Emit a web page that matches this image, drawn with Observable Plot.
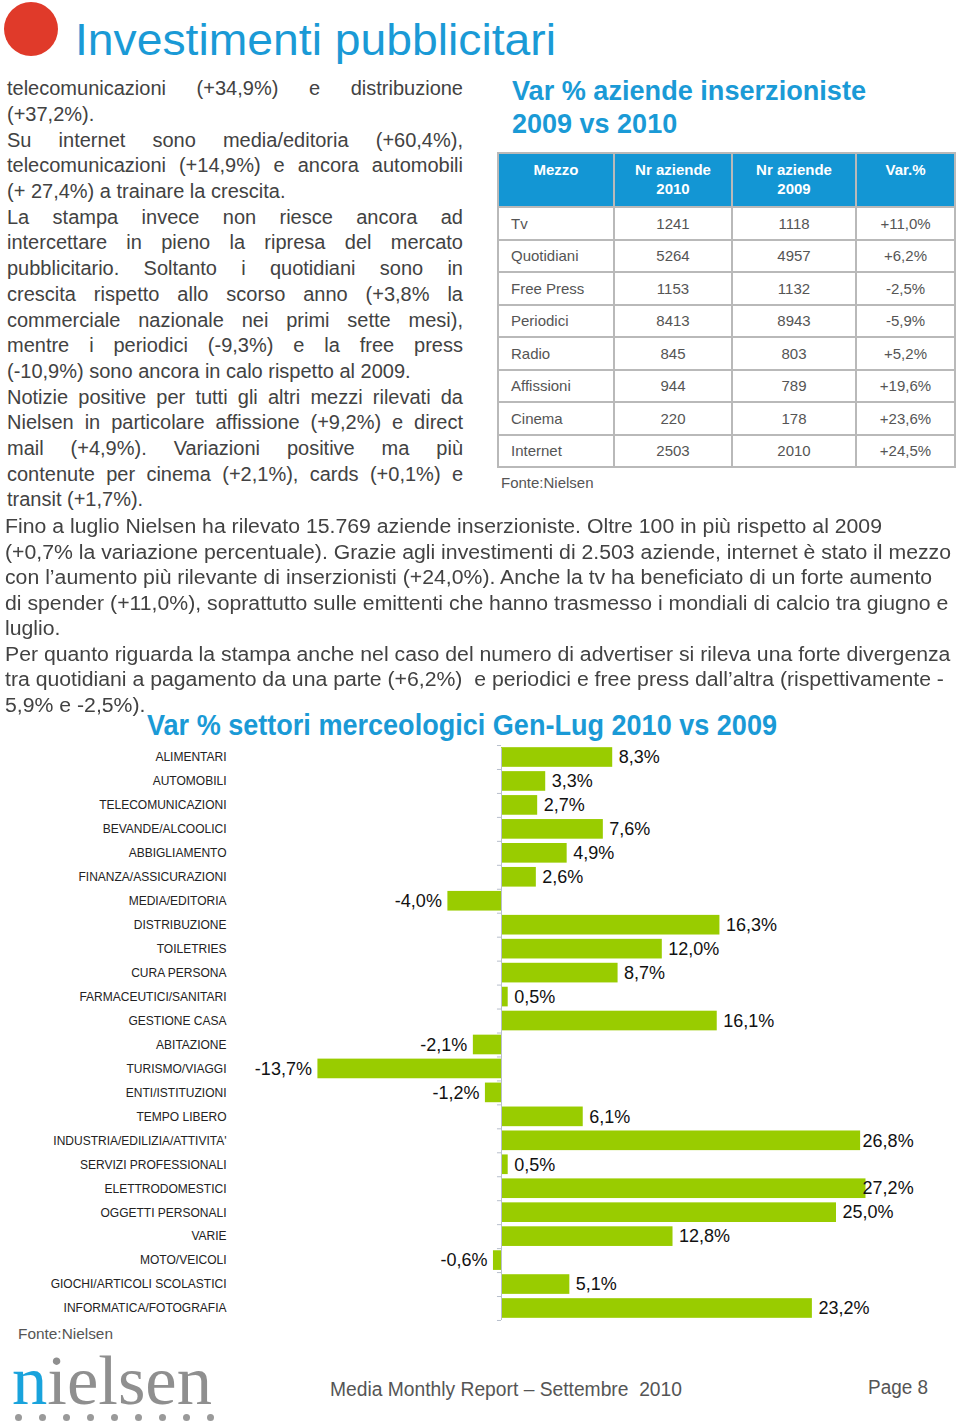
<!DOCTYPE html>
<html><head><meta charset="utf-8">
<script src="https://cdn.jsdelivr.net/npm/d3@7"></script>
<script src="https://cdn.jsdelivr.net/npm/@observablehq/plot@0.6"></script>
<style>
html,body{margin:0;padding:0;background:#fff;}
body{width:960px;height:1428px;position:relative;overflow:hidden;font-family:"Liberation Sans",Arial,Helvetica,sans-serif;}
.abs{position:absolute;white-space:nowrap;}
.txt{color:#424242;font-size:20px;line-height:25.7px;}
.blue{color:#1a9ad6;}
table.t{border-collapse:collapse;font-size:15px;color:#555;}
table.t td, table.t th{border:2px solid #b9b9b9;padding:0;}
table.t th{background:#1396d4;color:#fff;font-weight:bold;vertical-align:top;padding-top:6px;line-height:19px;height:46px;}
table.t td{height:30.5px;text-align:center;}
table.t td.first{text-align:left;padding-left:12px;}
#chart{position:absolute;left:0;top:740px;}
.dots{position:absolute;left:15px;top:1414px;}
.dots span{position:absolute;top:0;width:7px;height:7px;border-radius:50%;background:#9a9a9a;}
</style></head>
<body>
<div class="abs" style="left:4px;top:2px;width:54px;height:54px;border-radius:50%;background:#e03a2a;"></div>
<div class="abs blue fit" data-w="481" style="left:75px;top:14px;font-size:45px;line-height:52px;">Investimenti pubblicitari</div>

<div id="leftcol"></div>

<div class="abs blue" style="left:512px;top:75px;font-size:27px;font-weight:bold;line-height:33px;"><span class="fit" data-w="354">Var % aziende inserzioniste</span><br><span>2009 vs 2010</span></div>
<div id="tablewrap" class="abs" style="left:497px;top:152px;"></div>
<div class="abs" style="left:501px;top:474px;font-size:15px;color:#555;">Fonte:Nielsen</div>

<div id="fullpara" class="abs txt" style="left:5px;top:514px;"></div>

<div class="abs blue fit" data-w="630" style="left:147px;top:708px;font-size:29px;font-weight:bold;line-height:34px;font-family:'Liberation Sans Narrow','Liberation Sans',Arial,sans-serif;">Var % settori merceologici Gen-Lug 2010 vs 2009</div>

<div id="chart"></div>

<div class="abs fit" data-w="95" style="left:18px;top:1327px;font-size:14px;line-height:15px;color:#555;font-family:'Liberation Sans Narrow','Liberation Sans',Arial,sans-serif;">Fonte:Nielsen</div>
<div class="abs fit" data-w="200" style="left:12px;top:1352px;font-size:70px;line-height:58px;font-family:'Liberation Serif','Times New Roman',serif;color:#8f8f8f;"><span style="color:#19a3dc">n</span>ielsen</div>
<div class="dots" id="dots"></div>
<div class="abs fit" data-w="352" style="left:330px;top:1378px;font-size:20px;color:#555;font-family:'Liberation Sans Narrow','Liberation Sans',Arial,sans-serif;">Media Monthly Report – Settembre&nbsp; 2010</div>
<div class="abs fit" data-w="60" style="left:868px;top:1376px;font-size:20px;color:#555;font-family:'Liberation Sans Narrow','Liberation Sans',Arial,sans-serif;">Page 8</div>

<script>
// ---------- DATA ----------
const mezzi = ["Tv","Quotidiani","Free Press","Periodici","Radio","Affissioni","Cinema","Internet"];
const aziende2010 = [1241,5264,1153,8413,845,944,220,2503];
const aziende2009 = [1118,4957,1132,8943,803,789,178,2010];
const varAziende = ["+11,0%","+6,2%","-2,5%","-5,9%","+5,2%","+19,6%","+23,6%","+24,5%"];

const settori = ["ALIMENTARI","AUTOMOBILI","TELECOMUNICAZIONI","BEVANDE/ALCOOLICI","ABBIGLIAMENTO",
  "FINANZA/ASSICURAZIONI","MEDIA/EDITORIA","DISTRIBUZIONE","TOILETRIES","CURA PERSONA",
  "FARMACEUTICI/SANITARI","GESTIONE CASA","ABITAZIONE","TURISMO/VIAGGI","ENTI/ISTITUZIONI",
  "TEMPO LIBERO","INDUSTRIA/EDILIZIA/ATTIVITA'","SERVIZI PROFESSIONALI","ELETTRODOMESTICI",
  "OGGETTI PERSONALI","VARIE","MOTO/VEICOLI","GIOCHI/ARTICOLI SCOLASTICI","INFORMATICA/FOTOGRAFIA"];
const variazioni = [8.3,3.3,2.7,7.6,4.9,2.6,-4.0,16.3,12.0,8.7,0.5,16.1,-2.1,-13.7,-1.2,6.1,26.8,0.5,27.2,25.0,12.8,-0.6,5.1,23.2];

const leftLines = [
  ["telecomunicazioni (+34,9%) e distribuzione",1],
  ["(+37,2%).",0],
  ["Su internet sono media/editoria (+60,4%),",1],
  ["telecomunicazioni (+14,9%) e ancora automobili",1],
  ["(+ 27,4%) a trainare la crescita.",0],
  ["La stampa invece non riesce ancora ad",1],
  ["intercettare in pieno la ripresa del mercato",1],
  ["pubblicitario. Soltanto i quotidiani sono in",1],
  ["crescita rispetto allo scorso anno (+3,8% la",1],
  ["commerciale nazionale nei primi sette mesi),",1],
  ["mentre i periodici (-9,3%) e la free press",1],
  ["(-10,9%) sono ancora in calo rispetto al 2009.",0],
  ["Notizie positive per tutti gli altri mezzi rilevati da",1],
  ["Nielsen in particolare affissione (+9,2%) e direct",1],
  ["mail (+4,9%). Variazioni positive ma più",1],
  ["contenute per cinema (+2,1%), cards (+0,1%) e",1],
  ["transit (+1,7%).",0]
];
const fullLines = [
  "Fino a luglio Nielsen ha rilevato 15.769 aziende inserzioniste. Oltre 100 in più rispetto al 2009",
  "(+0,7% la variazione percentuale). Grazie agli investimenti di 2.503 aziende, internet è stato il mezzo",
  "con l’aumento più rilevante di inserzionisti (+24,0%). Anche la tv ha beneficiato di un forte aumento",
  "di spender (+11,0%), soprattutto sulle emittenti che hanno trasmesso i mondiali di calcio tra giugno e",
  "luglio.",
  "Per quanto riguarda la stampa anche nel caso del numero di advertiser si rileva una forte divergenza",
  "tra quotidiani a pagamento da una parte (+6,2%)  e periodici e free press dall’altra (rispettivamente -",
  "5,9% e -2,5%)."
];

// ---------- LEFT COLUMN ----------
const lc = document.getElementById("leftcol");
const colW = 456;
leftLines.forEach(([t,j],i)=>{
  const d = document.createElement("div");
  d.className = "abs txt";
  d.style.left = "7px";
  d.style.top = (76.3 + i*25.69) + "px";
  d.textContent = t;
  lc.appendChild(d);
  if (j) {
    const w = d.getBoundingClientRect().width;
    if (w >= colW) {
      d.style.transformOrigin = "0 50%";
      d.style.transform = `scaleX(${colW/w})`;
    } else {
      d.style.whiteSpace = "normal";
      d.style.width = colW + "px";
      d.style.textAlign = "justify";
      d.style.textAlignLast = "justify";
    }
  }
});

// ---------- FULL PARAGRAPH ----------
const fp = document.getElementById("fullpara");
fullLines.forEach((t,i)=>{
  const d = document.createElement("div");
  d.className = "abs";
  d.style.left = "0px";
  d.style.top = (i*25.57) + "px";
  d.innerHTML = t.replace(/  /g," &nbsp;");
  fp.appendChild(d);
});
{
  const first = fp.firstChild.getBoundingClientRect().width;
  fp.style.transformOrigin = "0 0";
  fp.style.transform = `scaleX(${877/first})`;
}

// ---------- TABLE ----------
{
  const widths = [116,118,124,99];
  let h = '<table class="t"><colgroup>' + widths.map(w=>`<col style="width:${w}px">`).join("") + '</colgroup>';
  h += '<tr><th>Mezzo</th><th>Nr aziende<br>2010</th><th>Nr aziende<br>2009</th><th>Var.%</th></tr>';
  mezzi.forEach((m,i)=>{
    h += `<tr><td class="first">${m}</td><td>${aziende2010[i]}</td><td>${aziende2009[i]}</td><td>${varAziende[i]}</td></tr>`;
  });
  h += '</table>';
  document.getElementById("tablewrap").innerHTML = h;
}

// ---------- FIT ----------
document.querySelectorAll(".fit").forEach(el=>{
  if (el.tagName === "SPAN") el.style.display = "inline-block";
  const w = el.getBoundingClientRect().width;
  const target = +el.dataset.w;
  el.style.transformOrigin = "0 50%";
  el.style.transform = `scaleX(${target/w})`;
});

// ---------- DOTS ----------
{
  const dd = document.getElementById("dots");
  for (let i=0;i<9;i++){ const s=document.createElement("span"); s.style.left=(i*24)+"px"; dd.appendChild(s); }
}

// ---------- CHART ----------
const data = settori.map((s,i)=>({settore:s, v:variazioni[i]}));
const fmt = v => (v<0?"-":"") + Math.abs(v).toFixed(1).replace(".", ",") + "%";
const step = 551/23, pad = 0.18;
const r0 = 17 - step*(0.5+pad/2);
const r1 = r0 + step*(settori.length + pad);

const chart = Plot.plot({
  width: 960,
  height: 600,
  marginLeft: 229,
  marginTop: 8,
  marginBottom: 20,
  marginRight: 0,
  style: {fontFamily: "'Liberation Sans', Arial, sans-serif", background: "transparent", overflow: "visible"},
  x: {domain: [-14, 28], range: [501 - 14*13.4, 501 + 28*13.4], axis: null},
  y: {domain: settori, range: [r0, r1], padding: pad, round: false, label: null},
  marks: [
    Plot.axisY({tickSize: 0, tickPadding: 3, fontSize: 12, fill: "#222", label: null}),
    Plot.barX(data, {x: "v", y: "settore", fill: "#99cc00"}),
    Plot.ruleX([0], {stroke: "#b8bfcc", strokeWidth: 1}),
    Plot.ruleY(settori, {y: d=>d, x1: -0.3, x2: 0, dy: -step/2, stroke: "#b8bfcc"}),
    Plot.ruleY(settori.slice(-1), {y: d=>d, x1: -0.3, x2: 0, dy: step/2, stroke: "#b8bfcc"}),
    Plot.text(data.filter(d=>d.v>=0), {x: d=>Math.min(d.v, 26.5), y: "settore", text: d=>fmt(d.v), textAnchor: "start", dx: 6, fontSize: 18, fill: "#111"}),
    Plot.text(data.filter(d=>d.v<0), {x: "v", y: "settore", text: d=>fmt(d.v), textAnchor: "end", dx: -6, fontSize: 18, fill: "#111"})
  ]
});
document.getElementById("chart").appendChild(chart);
</script>
</body></html>
